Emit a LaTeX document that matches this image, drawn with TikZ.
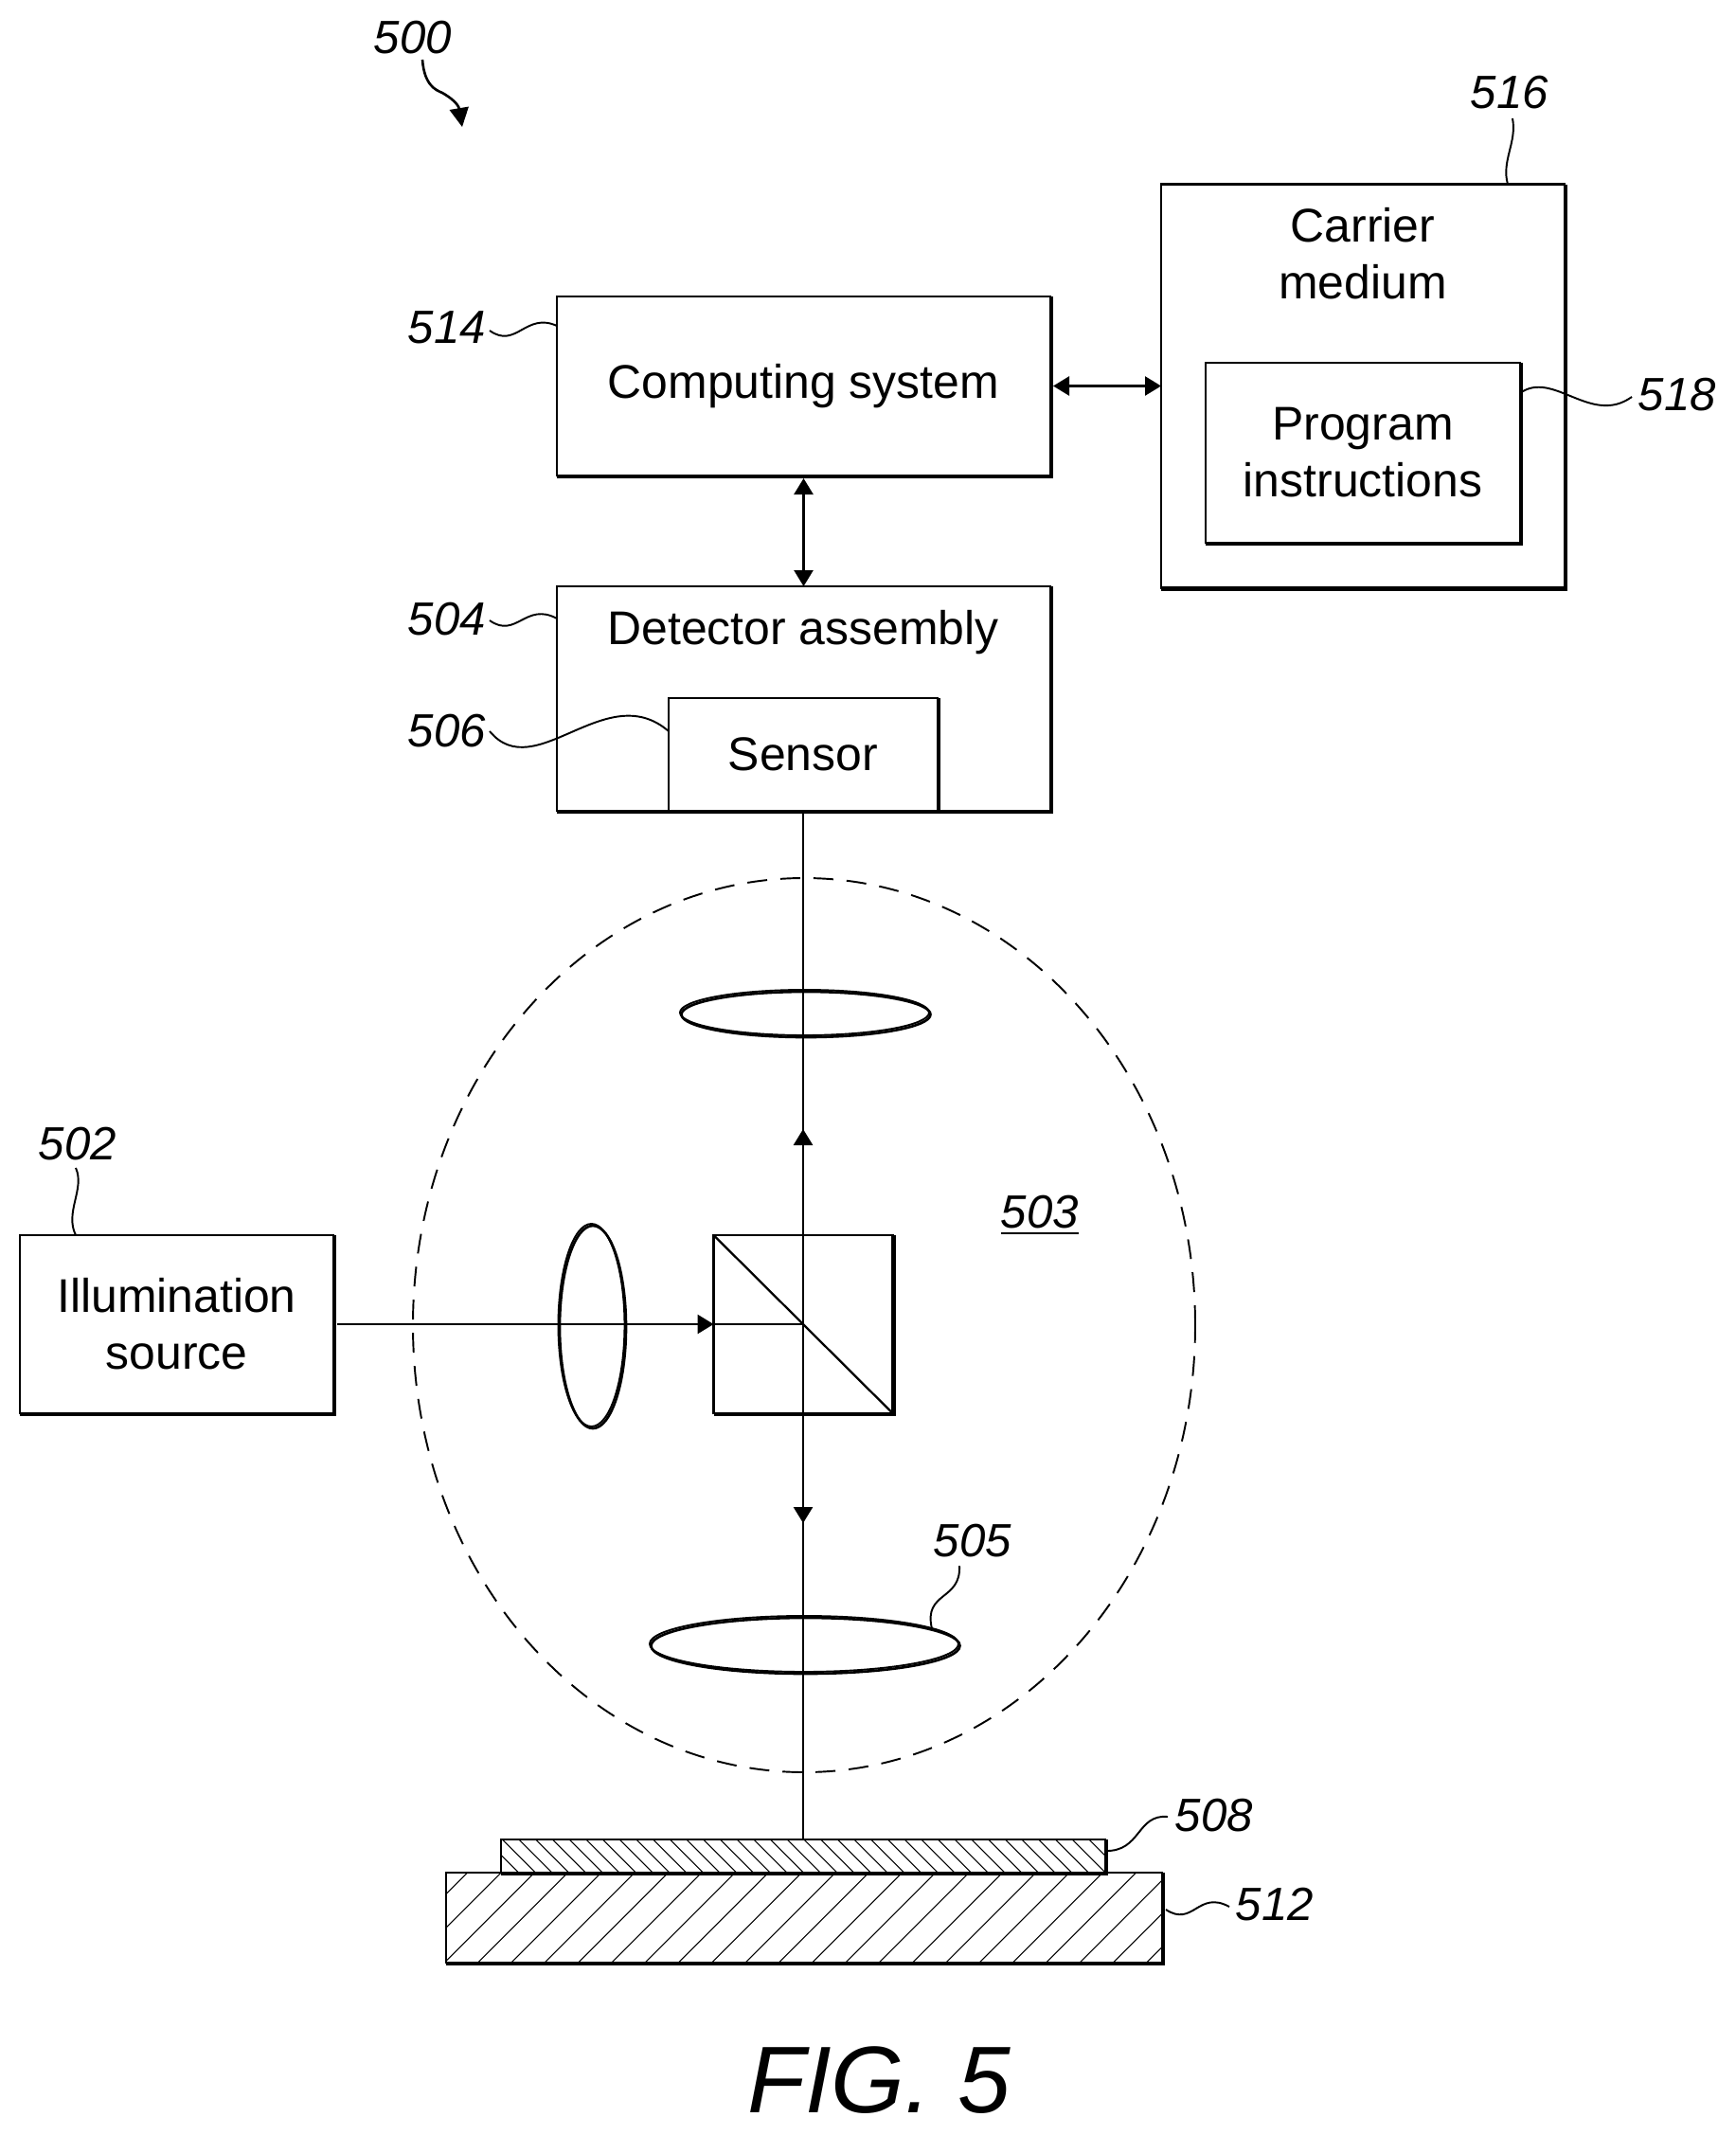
\documentclass[tikz,border=0pt]{standalone}
\usepackage{fontspec}
\setmainfont{Liberation Sans}
\usetikzlibrary{arrows.meta,shapes.geometric}

\tikzset{
	box/.style={shape=rectangle,draw=black,line width=.8pt,inner sep=0pt,outer sep=0pt,align=center,font=\fontsize{14.2pt}{17.07pt}\selectfont},
	boxtext/.style={inner sep=0pt,align=center,font=\fontsize{14.2pt}{17.07pt}\selectfont},
	refnum/.style={inner sep=0pt,font=\fontsize{14pt}{17.07pt}\selectfont\itshape},
	lens/.style={shape=ellipse,draw=black,line width=.55pt,inner sep=0pt,outer sep=0pt},
	leader/.style={draw=black,line width=.55pt},
	beam/.style={line width=.75pt,shorten <=.03cm},
	beamhead/.style={line width=.75pt,-{Triangle[length=.17cm,width=.2cm]}},
	bothheads/.style={line width=.75pt,{Triangle[length=.17cm,width=.2cm]}-{Triangle[length=.17cm,width=.2cm]},shorten <=.03cm},
	hatchline/.style={line width=.3pt},
}

\begin{document}
\begin{tikzpicture}
	\useasboundingbox (0,0) rectangle (18.32,-22.54);

	% hatching under the two plates
	\begin{scope}
		\clip (4.71,-19.77) rectangle (12.27,-20.72);
		\foreach \i in {-2,...,23}
			\draw[hatchline] ({5.27+\i*0.353},-19.79) -- ++(-1,-1) ++(1,1) -- ++(1,1);
	\end{scope}
	\begin{scope}
		\clip (5.29,-19.42) rectangle (11.67,-19.77);
		\foreach \i in {-4,...,35}
			\draw[hatchline] ({5.49+\i*0.177},-19.43) -- ++(.36,-.36) ++(-.36,.36) -- ++(-.36,.36);
	\end{scope}

	\node[box,minimum width=3.31cm,minimum height=1.88cm] (illum) at (1.865,-13.98) {Illumination\\source};
	\node[box,minimum width=5.21cm,minimum height=1.89cm] (comp) at (8.485,-4.075) {Computing system};
	\node[box,minimum width=5.21cm,minimum height=2.37cm] (det) at (8.485,-7.375) {};
	\node[box,line width=.65pt,minimum width=2.84cm,minimum height=1.19cm] (sensor) at (8.48,-7.965) {Sensor};
	\node[box,minimum width=4.26cm,minimum height=4.26cm] (carrier) at (14.39,-4.075) {};
	\node[box,minimum width=3.32cm,minimum height=1.90cm] (prog) at (14.39,-4.78) {Program\\instructions};
	\node[box,minimum width=1.89cm,minimum height=1.88cm] (cube) at (8.48,-13.98) {};
	\node[box,minimum width=6.38cm,minimum height=.35cm] (plate) at (8.48,-19.595) {};
	\node[box,minimum width=7.56cm,minimum height=.95cm] (stage) at (8.49,-20.245) {};

	\node[boxtext] (dettext) at (8.48,-6.68) {Detector assembly};
	\node[boxtext] (cartext) at (14.39,-2.68) {Carrier\\medium};

	\node[lens,minimum width=2.63cm,minimum height=.48cm] (lensa) at (8.495,-10.69) {};
	\node[lens,minimum width=.70cm,minimum height=2.14cm] (lensb) at (6.245,-13.99) {};
	\node[lens,minimum width=3.26cm,minimum height=.59cm] (lensc) at (8.49,-17.355) {};
	\node[shape=ellipse,draw=black,line width=.55pt,dash pattern=on .21cm off .14cm,inner sep=0pt,minimum width=8.26cm,minimum height=9.44cm] (zone) at (8.49,-13.99) {};

	% thick side of each box and lens
	\foreach \n in {illum,comp,det,sensor,carrier,prog,cube,plate,stage}
		\draw[line width=1.4pt] ([xshift=.01cm]\n.north east) |- ([yshift=-.01cm]\n.south west);
	\foreach \n/\a/\b in {lensa/1.315/.24,lensb/.35/1.07,lensc/1.63/.295}
		\draw[line width=.75pt] ([shift={(.015,-.02)}]\n.center) ellipse (\a cm and \b cm);

	\draw[line width=.65pt] (cube.north west) -- (cube.south east);

	\coordinate (uptip) at (8.48,-11.92);
	\coordinate (downtip) at (8.48,-16.08);

	\path[beam] (sensor) edge (plate);
	\path[beamhead] (cube.center) edge (uptip);
	\path[beamhead] (cube.center) edge (downtip);
	\path[beamhead,shorten <=.04cm] (illum) edge (cube);
	\path[line width=.75pt] (cube.west) edge (cube.center);
	\path[bothheads] (comp) edge (det);
	\path[bothheads] (comp) edge (carrier);

	\node[refnum] (n500) at (4.36,-.40) {500};
	\node[refnum] (n516) at (15.94,-.98) {516};
	\node[refnum] (n514) at (4.72,-3.46) {514};
	\node[refnum] (n518) at (17.71,-4.17) {518};
	\node[refnum] (n504) at (4.72,-6.54) {504};
	\node[refnum] (n506) at (4.72,-7.72) {506};
	\node[refnum] (n502) at (.82,-12.08) {502};
	\node[refnum] (n505) at (10.27,-16.27) {505};
	\node[refnum] (n503) at (10.98,-12.83) {\underline{503}};
	\node[refnum] (n508) at (12.82,-19.17) {508};
	\node[refnum] (n512) at (13.46,-20.11) {512};
	\node[inner sep=0pt,font=\fontsize{28.45pt}{34pt}\selectfont\itshape] (figname) at (9.28,-21.96) {FIG. 5};

	\coordinate (tip500) at (4.88,-1.34);
	\draw[line width=.75pt,-{Triangle[length=.2cm,width=.2cm]}] (4.46,-.63) .. controls (4.48,-.9) and (4.6,-.95) .. (4.67,-.98) .. controls (4.76,-1.03) and (4.84,-1.1) .. (tip500);

	\draw[leader] (5.17,-3.49) .. controls (5.45,-3.69) and (5.55,-3.29) .. ([yshift=-.31cm]comp.north west);
	\draw[leader] (5.17,-6.55) .. controls (5.45,-6.75) and (5.55,-6.35) .. ([yshift=-.34cm]det.north west);
	\draw[leader] (5.17,-7.72) .. controls (5.65,-8.3) and (6.4,-7.15) .. ([yshift=-.35cm]sensor.north west);
	\draw[leader] (15.97,-1.25) .. controls (16.02,-1.5) and (15.85,-1.7) .. (15.92,0 |- carrier.north);
	\draw[leader] ([yshift=-.32cm]prog.north east) .. controls (16.4,-3.9) and (16.8,-4.5) .. (17.23,-4.19);
	\draw[leader] (.80,-12.33) .. controls (.9,-12.55) and (.68,-12.8) .. (.80,0 |- illum.north);
	\draw[leader] (10.13,-16.53) .. controls (10.15,-16.9) and (9.75,-16.8) .. (lensc.7.4);
	\draw[leader] (12.33,-19.18) .. controls (12,-19.15) and (12.05,-19.55) .. ([yshift=-.12cm]plate.north east);
	\draw[leader] (12.98,-20.13) .. controls (12.65,-19.95) and (12.6,-20.35) .. ([yshift=-.39cm,xshift=.04cm]stage.north east);

\end{tikzpicture}
\end{document}
